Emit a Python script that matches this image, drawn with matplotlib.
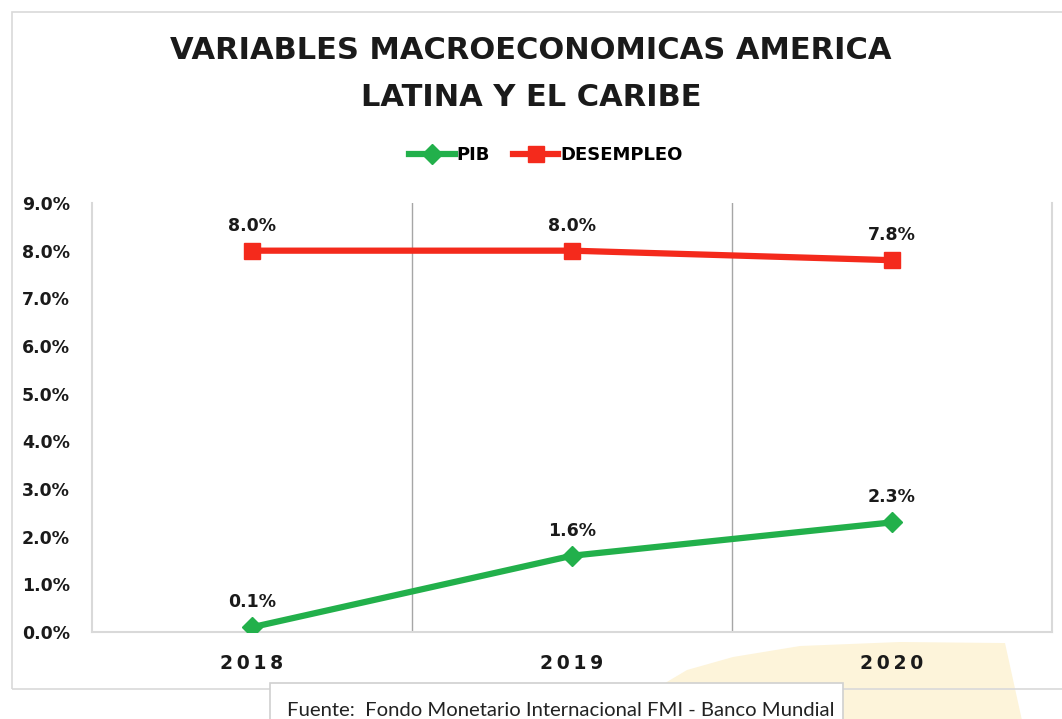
import matplotlib
matplotlib.use("Agg")
import matplotlib.pyplot as plt
from matplotlib.patches import Rectangle, Polygon
from matplotlib.ticker import FuncFormatter, FixedLocator

years = ["2018", "2019", "2020"]
pib = [0.1, 1.6, 2.3]
desempleo = [8.0, 8.0, 7.8]
title = "VARIABLES MACROECONOMICAS AMERICA\nLATINA Y EL CARIBE"
source = "Fuente:  Fondo Monetario Internacional FMI - Banco Mundial"

W, H = 1062, 719
fig = plt.figure(figsize=(W / 100, H / 100), dpi=100)
fig.patch.set_facecolor("white")

def fx(x):
    return x / W

def fy(y):
    return 1 - y / H

# decorative cream shape bottom right
pts = [(600, 725), (650, 692), (687, 670), (733, 657), (800, 646), (900, 642),
       (1000, 643), (1005, 643), (1023, 725)]
fig.patches.append(Polygon([(fx(a), fy(b)) for a, b in pts], closed=True,
                           transform=fig.transFigure, facecolor="#FDF4DA",
                           edgecolor="none", zorder=-2))
# outer chart frame
fig.patches.append(Rectangle((fx(12), fy(689)), fx(1070 - 12), fy(12) - fy(689),
                             transform=fig.transFigure, facecolor="none",
                             edgecolor="#D9D9D9", lw=1.2, zorder=-1))

ax = fig.add_axes([fx(92), fy(632), fx(1052 - 92), fy(203) - fy(632)])
ax.set_facecolor("none")
x = list(range(len(years)))

green = "#22B04B"
red = "#F42A1C"
ax.plot(x, pib, color=green, lw=4.5, marker="D", ms=10, mfc=green, mec=green,
        label="PIB", zorder=3)
ax.plot(x, desempleo, color=red, lw=4.5, marker="s", ms=12, mfc=red, mec=red,
        label="DESEMPLEO", zorder=3)

for xi, v in zip(x, pib):
    ax.annotate(f"{v:.1f}%", (xi, v), xytext=(0, 18), textcoords="offset points",
                ha="center", va="center", fontsize=12.5, fontweight="bold", color="#1a1a1a")
for xi, v in zip(x, desempleo):
    ax.annotate(f"{v:.1f}%", (xi, v), xytext=(0, 18), textcoords="offset points",
                ha="center", va="center", fontsize=12.5, fontweight="bold", color="#1a1a1a")

ax.set_xlim(-0.5, 2.5)
ax.set_ylim(0, 9)
ax.set_yticks(range(0, 10))
ax.yaxis.set_major_formatter(FuncFormatter(lambda v, p: f"{v:.1f}%"))
ax.set_xticks(x)
ax.set_xticklabels(["\u2009".join(list(y)) for y in years])
ax.xaxis.set_minor_locator(FixedLocator([0.5, 1.5]))
ax.grid(True, which="minor", axis="x", color="#A6A6A6", lw=1)
ax.tick_params(axis="both", which="both", length=0)
ax.tick_params(axis="y", pad=16, labelsize=12.5, labelcolor="#1a1a1a")
ax.tick_params(axis="x", pad=16, labelsize=13.5, labelcolor="#1a1a1a")
for lab in ax.get_yticklabels() + ax.get_xticklabels():
    lab.set_fontweight("bold")
for s in ["left", "bottom", "right"]:
    ax.spines[s].set_color("#D9D9D9")
    ax.spines[s].set_linewidth(1.5)
ax.spines["top"].set_visible(False)

fig.text(0.5, fy(74), title, ha="center", va="center", fontsize=22,
         fontweight="bold", color="#1a1a1a", linespacing=1.75)

leg = ax.legend(loc="center", bbox_to_anchor=(fx(546), fy(155)),
                bbox_transform=fig.transFigure, ncol=2, frameon=False,
                prop={"weight": "bold", "size": 13}, handlelength=2.5,
                columnspacing=1.3, handletextpad=0.1)

# source box
fig.patches.append(Rectangle((fx(270), fy(730)), fx(843 - 270), fy(683) - fy(730),
                             transform=fig.transFigure, facecolor="white",
                             edgecolor="#D0D0D0", lw=1.2, zorder=5))
fig.text(fx(287), fy(710), source, ha="left", va="center", fontsize=14.6,
         family="Lato", color="#222222", zorder=6)

fig.savefig("out.png", dpi=100, facecolor="white")
